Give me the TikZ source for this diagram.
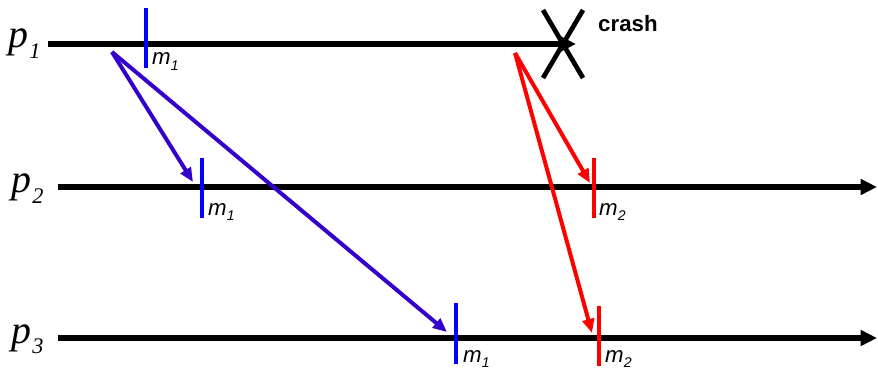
\documentclass[tikz,border=0pt]{standalone}
\usepackage{fontspec}
\setmainfont{Liberation Serif}
\setsansfont{Liberation Sans}
\usetikzlibrary{arrows.meta, positioning}

\definecolor{msgblue}{RGB}{51,0,204}
\definecolor{tickblue}{RGB}{0,0,255}
\definecolor{msgred}{RGB}{255,0,0}

\newcommand{\procname}[1]{\fontsize{34}{34}\selectfont\itshape p\kern1pt\raisebox{-9pt}{\fontsize{19}{19}\selectfont #1}}
\newcommand{\msgname}[1]{\sffamily\itshape\fontsize{19}{19}\selectfont m\raisebox{-5pt}{\fontsize{12}{12}\selectfont #1}}

\begin{document}
\begin{tikzpicture}[x=0.03cm, y=-0.03cm,
    procline/.style={line width=4.6pt, -{Triangle[length=14pt, width=13pt]}},
    sendarrow/.style={line width=3.4pt, -{Triangle[length=12pt, width=10pt]}},
    recvmark/.style={line width=2.6pt},
    lbl/.style={inner sep=0pt, anchor=base west}]
\useasboundingbox (0,0) rectangle (878,372);

% Processes
\node[lbl] (p1) at (8,48) {\procname{1}};
\node[lbl] (p2) at (11,193) {\procname{2}};
\node[lbl] (p3) at (11,343) {\procname{3}};

\coordinate (p1start) at (48,44);
\coordinate (p1end) at (576,44);
\coordinate (p2start) at (58,187);
\coordinate (p2end) at (877,187);
\coordinate (p3start) at (58,338);
\coordinate (p3end) at (877,338);
\draw[procline] (p1start) -- (p1end);
\draw[procline] (p2start) -- (p2end);
\draw[procline] (p3start) -- (p3end);

% Crash of p1
\draw[line width=4pt] (543,10) -- (583,78);
\draw[line width=4pt] (583,10) -- (543,78);
\node[inner sep=0pt, anchor=base west, font=\sffamily\bfseries\fontsize{19}{19}\selectfont] (crash) at (598,32) {crash};

% Messages
\coordinate (send1) at (112,52);
\coordinate (recv21) at (193,182);
\coordinate (recv31) at (447,332);
\coordinate (send2) at (515,53);
\coordinate (recv22) at (590,183);
\coordinate (recv32) at (592,333);
\draw[sendarrow, msgblue] (send1) -- (recv21);
\draw[sendarrow, msgblue] (send1) -- (recv31);
\draw[sendarrow, msgred] (send2) -- (recv22);
\draw[sendarrow, msgred] (send2) -- (recv32);

% Delivery marks
\draw[recvmark, tickblue] (146,8) -- (146,68);
\draw[recvmark, tickblue] (202,158) -- (202,218);
\draw[recvmark, tickblue] (456,303) -- (456,364);
\draw[recvmark, msgred] (594,158) -- (594,218);
\draw[recvmark, msgred] (599,306) -- (599,366);

% Labels
\node[lbl] (m11) at (152,65) {\msgname{1}};
\node[lbl] (m21) at (208,215) {\msgname{1}};
\node[lbl] (m31) at (463,362) {\msgname{1}};
\node[lbl] (m22) at (599,215) {\msgname{2}};
\node[lbl] (m32) at (605,362) {\msgname{2}};

\end{tikzpicture}
\end{document}
